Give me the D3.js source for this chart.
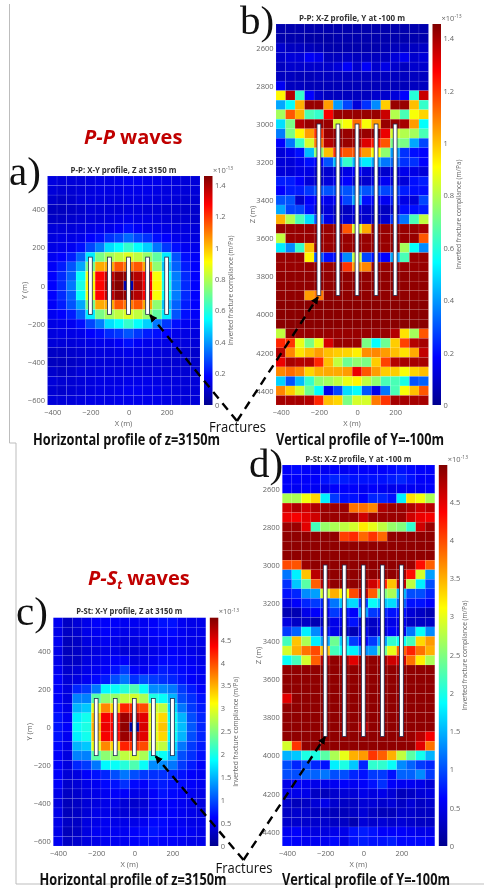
<!DOCTYPE html>
<html>
<head>
<meta charset="utf-8">
<script src="https://cdn.jsdelivr.net/npm/d3@7"></script>
<style>
  html, body { margin: 0; padding: 0; background: #fff; }
  svg { display: block; filter: blur(0.5px); }
  text { font-family: 'Open Sans', sans-serif; }
  .tick text { font-size: 7.5px; fill: #666; font-family: 'Open Sans', sans-serif; }
  .axis-label { font-size: 7.5px; fill: #666; }
  .bar-label { font-size: 7px; fill: #666; }
  .plot-title { font-size: 8px; font-weight: 700; fill: #333; }
  .heading { font-size: 15.5px; font-weight: 700; fill: #111; }
  .panel-tag { font-family: 'Liberation Serif', serif; font-size: 41px; fill: #111; }
  .wave { font-size: 20px; font-weight: 700; fill: #c00000; }
</style>
</head>
<body>
<div class="chart"></div>
<script>
const xCenters = [-400, -350, -300, -250, -200, -150, -100, -50, 0, 50, 100, 150, 200, 250, 300, 350];
const yCenters = [550, 500, 450, 400, 350, 300, 250, 200, 150, 100, 50, 0, -50, -100, -150, -200, -250, -300, -350, -400, -450, -500, -550, -600];
const zCenters = [2500, 2550, 2600, 2650, 2700, 2750, 2800, 2850, 2900, 2950, 3000, 3050, 3100, 3150, 3200, 3250, 3300, 3350, 3400, 3450, 3500, 3550, 3600, 3650, 3700, 3750, 3800, 3850, 3900, 3950, 4000, 4050, 4100, 4150, 4200, 4250, 4300, 4350, 4400, 4450];

const xTicks = [-400, -200, 0, 200];
const yTicks = [400, 200, 0, -200, -400, -600];
const zTicks = [2600, 2800, 3000, 3200, 3400, 3600, 3800, 4000, 4200, 4400];
const ppTicks = [0, 0.2, 0.4, 0.6, 0.8, 1, 1.2, 1.4];
const pstTicks = [0, 0.5, 1, 1.5, 2, 2.5, 3, 3.5, 4, 4.5];

const fractureX = [-200, -100, 0, 100, 200];
const fractureY = [-150, 150];
const fractureZ = [3000, 3900];

// a) P-P, X-Y slice (x 1e-13 m/Pa)
const ppXY = [
  [.13,.12,.12,.12,.13,.14,.14,.15,.16,.16,.15,.15,.14,.13,.12,.12],
  [.12,.11,.11,.12,.13,.14,.14,.14,.15,.15,.15,.14,.13,.13,.12,.12],
  [.10,.09,.10,.12,.13,.13,.13,.13,.14,.14,.14,.13,.13,.12,.11,.11],
  [.08,.08,.09,.10,.12,.12,.12,.12,.13,.13,.12,.12,.11,.11,.10,.10],
  [.09,.09,.10,.11,.12,.12,.13,.14,.15,.14,.14,.13,.12,.11,.11,.10],
  [.12,.12,.12,.13,.14,.15,.15,.17,.20,.17,.15,.15,.14,.13,.13,.12],
  [.13,.14,.14,.15,.18,.20,.25,.28,.33,.28,.25,.20,.18,.15,.14,.13],
  [.14,.15,.16,.20,.28,.36,.50,.55,.62,.55,.48,.35,.26,.20,.16,.15],
  [.16,.18,.22,.32,.52,.72,.78,.82,.86,.82,.76,.68,.52,.30,.20,.17],
  [.17,.22,.30,.42,.72,1.03,1.03,1.15,1.10,1.15,1.03,.75,.46,.32,.22,.18],
  [.18,.24,.32,.55,.88,1.27,1.36,1.43,1.43,1.38,1.27,.90,.55,.36,.24,.18],
  [.18,.24,.35,.58,.92,1.27,1.40,1.45,.05,1.40,1.28,.92,.58,.36,.24,.18],
  [.18,.24,.32,.55,.88,1.27,1.36,1.43,1.43,1.38,1.27,.90,.55,.36,.24,.18],
  [.17,.22,.30,.42,.72,1.03,1.03,1.15,1.10,1.15,1.03,.75,.46,.32,.22,.18],
  [.16,.18,.22,.32,.52,.72,.78,.82,.86,.82,.76,.68,.52,.30,.20,.17],
  [.14,.15,.16,.20,.28,.36,.50,.55,.62,.55,.48,.35,.26,.20,.16,.15],
  [.13,.14,.14,.15,.18,.20,.24,.26,.30,.26,.22,.20,.18,.15,.14,.13],
  [.12,.12,.12,.13,.14,.15,.15,.17,.20,.17,.15,.15,.14,.13,.13,.12],
  [.09,.09,.10,.11,.12,.13,.13,.14,.15,.14,.14,.13,.12,.11,.11,.10],
  [.08,.08,.09,.10,.12,.12,.12,.12,.13,.13,.12,.12,.11,.11,.10,.10],
  [.10,.09,.10,.12,.12,.13,.13,.13,.13,.13,.13,.13,.12,.12,.11,.11],
  [.12,.11,.11,.12,.13,.14,.14,.14,.15,.15,.15,.14,.13,.13,.12,.12],
  [.11,.10,.11,.12,.13,.14,.14,.15,.16,.16,.15,.15,.14,.13,.12,.12],
  [.12,.12,.12,.13,.14,.14,.14,.15,.15,.15,.15,.15,.14,.13,.12,.12]
];

// b) P-P, X-Z slice
const ppXZ = [
  [.05,.05,.05,.05,.05,.05,.05,.05,.05,.05,.05,.05,.05,.05,.05,.05],
  [.05,.05,.05,.04,.04,.04,.05,.05,.05,.05,.05,.05,.05,.05,.05,.05],
  [.10,.08,.08,.07,.06,.05,.05,.05,.05,.05,.05,.06,.07,.08,.08,.09],
  [.10,.12,.12,.17,.15,.08,.08,.09,.08,.08,.08,.08,.12,.16,.10,.12],
  [.08,.10,.10,.10,.10,.10,.12,.17,.10,.17,.10,.14,.10,.08,.10,.10],
  [.08,.08,.07,.07,.08,.08,.08,.08,.08,.08,.08,.08,.08,.08,.08,.08],
  [.16,.08,.08,.07,.07,.07,.07,.07,.07,.07,.07,.07,.07,.07,.08,.08],
  [.92,1.38,.62,.18,.10,.08,.08,.08,.08,.08,.10,.10,.12,.18,.60,1.35],
  [.42,.55,1.02,1.42,1.42,1.05,.40,.28,.12,.25,.38,.98,1.42,1.42,1.00,.62],
  [.78,1.15,1.02,.65,.62,1.28,1.42,1.42,1.42,1.42,1.42,1.35,.80,.65,.90,.97],
  [.50,.72,1.38,1.42,1.42,1.42,.85,.90,1.12,.90,1.05,1.42,1.42,1.40,1.05,.55],
  [.36,.72,.92,1.05,1.20,1.42,1.42,1.42,1.42,1.42,1.42,1.30,.85,.80,.78,.65],
  [.18,.35,.62,.85,1.10,1.38,1.42,1.42,1.40,1.32,1.24,1.15,.72,.72,.42,.28],
  [.12,.15,.20,.45,.75,1.00,1.20,1.15,1.15,1.05,.90,.75,.40,.25,.20,.18],
  [.12,.12,.15,.20,.18,.30,.45,.62,.45,.52,.42,.35,.33,.25,.25,.18],
  [.12,.12,.14,.14,.10,.10,.12,.14,.18,.12,.10,.10,.12,.15,.14,.12],
  [.22,.22,.18,.12,.10,.12,.16,.18,.10,.10,.14,.16,.12,.12,.20,.22],
  [.18,.22,.22,.26,.30,.30,.30,.30,.35,.30,.32,.28,.28,.22,.20,.20],
  [.30,.30,.10,.18,.18,.15,.18,.28,.42,.20,.18,.16,.22,.14,.12,.28],
  [.42,.28,.28,.20,.10,.12,.08,.08,.14,.10,.10,.08,.10,.20,.20,.22],
  [1.02,.80,.65,.50,.30,.14,.10,.10,.10,.10,.08,.10,.25,.35,.65,.82],
  [1.42,1.42,1.42,1.42,1.42,1.42,1.42,1.15,.85,1.03,1.42,1.42,1.42,1.42,1.42,1.40],
  [.82,1.42,1.42,1.42,1.42,1.42,1.42,1.42,1.42,1.42,1.42,1.42,1.42,1.42,1.42,1.15],
  [.52,.38,.62,1.00,1.42,1.42,1.42,1.42,1.42,1.42,1.42,1.42,1.42,.78,.55,.38],
  [1.42,1.42,1.42,.92,.30,.20,.20,.38,.82,.28,.20,.18,.42,.65,1.42,1.42],
  [1.42,1.42,1.42,1.42,1.42,1.42,1.42,1.20,1.05,1.08,1.42,1.42,1.42,1.42,1.42,1.42],
  [1.43,1.43,1.43,1.43,1.43,1.43,1.43,1.43,1.43,1.43,1.43,1.43,1.43,1.43,1.43,1.43],
  [1.43,1.43,1.43,1.43,1.43,1.43,1.43,1.43,1.43,1.43,1.43,1.43,1.43,1.43,1.43,1.43],
  [1.43,1.43,1.43,1.05,1.10,1.43,1.43,1.43,1.43,1.43,1.43,1.43,1.43,1.43,1.43,1.43],
  [1.44,1.44,1.44,1.44,1.44,1.44,1.44,1.44,1.44,1.44,1.44,1.44,1.44,1.44,1.44,1.44],
  [1.44,1.44,1.44,1.44,1.44,1.44,1.44,1.44,1.44,1.44,1.44,1.44,1.44,1.44,1.44,1.44],
  [1.44,1.44,1.44,1.44,1.44,1.44,1.44,1.44,1.44,1.44,1.44,1.44,1.44,1.44,1.44,1.44],
  [.82,1.42,1.42,1.42,1.42,1.42,1.42,1.42,1.42,1.42,1.42,1.42,1.38,.95,.78,1.15],
  [1.22,1.20,.88,.72,.88,1.33,1.42,1.42,1.42,.72,.55,.70,.98,1.18,1.38,1.40],
  [1.38,1.08,.95,1.00,1.05,1.00,.98,.97,.93,1.07,1.08,1.05,1.00,.95,1.03,1.36],
  [1.30,1.40,1.38,1.38,1.22,1.00,.82,.70,.75,.72,.98,1.18,1.38,1.40,1.40,1.40],
  [1.08,1.12,1.08,.97,1.02,1.03,1.03,1.05,1.30,1.15,1.05,.98,.98,.90,.97,1.00],
  [.48,.30,.45,.62,.75,.78,.82,.88,.92,.82,.75,.65,.65,.58,.30,.32],
  [1.08,.98,.85,.70,.55,.15,.28,.50,.55,.30,.15,.35,.65,.90,1.00,1.15],
  [1.40,1.40,1.40,1.38,1.22,1.00,.97,.72,.85,.85,1.10,1.20,1.40,1.40,1.40,1.40]
];

// c) P-St, X-Y slice
const pstXY = [
  [.55,.30,.40,.50,.60,.60,.60,.55,.55,.55,.60,.70,.70,.55,.50,.50],
  [.50,.30,.35,.50,.55,.60,.55,.50,.50,.55,.60,.65,.65,.55,.50,.50],
  [.55,.25,.30,.45,.50,.55,.50,.45,.45,.50,.55,.60,.60,.55,.50,.50],
  [.50,.25,.30,.40,.45,.50,.50,.40,.40,.45,.50,.55,.60,.55,.50,.45],
  [.50,.30,.30,.45,.50,.55,.60,.60,.45,.50,.55,.65,.65,.60,.55,.50],
  [.55,.35,.40,.50,.55,.60,.70,.90,.60,.55,.65,.75,.70,.65,.60,.55],
  [.60,.40,.45,.55,.65,.75,1.00,1.20,.85,1.00,.90,.85,.80,.70,.60,.55],
  [.60,.45,.80,.90,1.20,1.85,1.90,2.05,2.25,1.90,1.30,1.30,1.20,.90,.75,.60],
  [.60,.45,1.25,1.25,2.30,2.55,2.60,2.80,2.90,2.70,2.00,1.90,1.50,1.00,.85,.70],
  [.65,.50,1.50,1.60,3.00,3.70,3.30,4.20,4.10,4.00,2.90,2.80,1.70,1.20,.90,.75],
  [.70,.55,1.80,1.95,3.40,4.40,4.30,4.85,4.70,4.50,3.00,3.30,1.90,1.50,1.00,.80],
  [.70,.60,1.90,2.00,3.50,4.45,4.35,4.90,.10,4.55,3.00,3.40,1.95,1.55,1.05,.80],
  [.70,.55,1.80,1.95,3.40,4.40,4.30,4.85,4.70,4.50,3.00,3.30,1.90,1.50,1.00,.80],
  [.65,.50,1.50,1.60,3.00,3.70,3.30,4.20,4.10,4.00,2.90,2.80,1.70,1.20,.90,.75],
  [.60,.45,1.25,1.25,2.30,2.55,2.60,2.80,2.90,2.70,2.00,1.90,1.50,1.00,.85,.70],
  [.60,.45,.80,.90,1.20,1.85,1.90,2.05,2.25,1.90,1.30,1.30,1.20,.90,.75,.60],
  [.60,.40,.45,.60,.70,.80,1.00,1.20,1.00,.90,.85,.85,.80,.70,.60,.55],
  [.60,.35,.40,.50,.55,.65,.70,.85,.65,.60,.70,.75,.70,.65,.60,.55],
  [.50,.30,.35,.45,.50,.55,.60,.60,.50,.50,.60,.70,.65,.60,.55,.50],
  [.45,.25,.30,.40,.45,.50,.50,.40,.35,.40,.55,.60,.60,.55,.50,.45],
  [.50,.25,.30,.40,.50,.50,.45,.40,.40,.45,.55,.60,.60,.55,.50,.45],
  [.50,.30,.30,.45,.50,.55,.50,.50,.50,.55,.65,.65,.60,.55,.50,.50],
  [.50,.25,.30,.45,.55,.55,.55,.55,.60,.65,.70,.65,.60,.60,.55,.50],
  [.55,.30,.35,.45,.50,.55,.55,.55,.60,.65,.65,.60,.60,.55,.50,.50]
];

// d) P-St, X-Z slice
const pstXZ = [
  [.60,.65,.60,.55,.55,.60,.55,.60,.60,.60,.60,.65,.70,.65,.60,.60],
  [.60,.60,.60,.60,.70,.80,.75,.70,.70,.70,.70,.75,.80,.70,.60,.60],
  [.60,.55,.60,.55,.50,.60,.60,.60,.55,.60,.55,.50,.55,.55,.55,.60],
  [2.70,2.70,3.05,3.30,1.80,.90,.70,.70,.60,.80,.80,.70,1.80,3.25,3.05,2.70],
  [4.60,4.75,4.60,4.75,4.85,4.85,4.85,3.80,3.80,3.70,4.75,4.85,4.85,4.75,4.60,4.70],
  [4.45,4.40,4.50,4.60,4.85,4.85,4.85,4.85,4.60,4.85,4.85,4.85,4.85,4.60,4.45,4.40],
  [4.85,4.85,4.50,2.20,2.60,2.70,2.80,2.90,3.20,3.00,2.80,2.60,2.50,2.10,4.60,4.85],
  [4.90,4.90,4.90,4.90,4.90,4.90,4.05,4.15,3.85,4.10,3.85,4.90,4.90,4.90,4.90,4.90],
  [4.90,4.90,4.90,4.90,4.90,4.90,4.90,4.90,4.90,4.90,4.90,4.90,4.90,4.90,4.90,4.90],
  [4.90,4.90,4.90,4.90,4.90,4.90,4.90,4.90,4.90,4.90,4.90,4.90,4.90,4.90,4.90,4.90],
  [4.00,3.95,4.85,4.90,4.90,4.90,4.90,4.90,4.90,4.90,4.90,4.90,4.90,4.85,4.30,3.90],
  [1.20,1.80,3.40,4.70,4.90,4.90,4.90,4.90,4.90,4.90,4.90,4.90,4.85,4.30,2.90,1.40],
  [.85,1.60,2.30,3.90,4.70,4.90,4.90,4.90,4.90,4.60,4.20,3.40,4.70,2.80,1.80,1.00],
  [.70,.80,1.30,1.40,2.90,3.50,3.10,4.00,4.70,3.90,2.50,2.70,1.50,1.00,1.00,.80],
  [.45,.60,.80,.90,.80,1.20,1.60,1.70,.90,1.90,1.60,1.70,1.10,.70,.70,.60],
  [.20,.20,.50,.60,.60,.90,.70,.60,1.40,.90,.80,.70,.70,.40,.30,.20],
  [.45,.30,.30,.20,.30,.50,.50,.70,.30,.30,.45,.50,.50,.30,.30,.30],
  [.90,1.10,1.80,1.30,.70,.50,.30,.20,.50,.30,.40,.60,.50,1.20,1.90,1.30],
  [2.20,3.40,2.70,1.80,1.40,2.40,1.60,.90,.60,.90,1.40,2.10,1.90,2.20,3.30,3.60],
  [2.90,3.50,3.80,4.00,3.40,2.20,1.90,1.80,1.30,1.40,2.40,3.00,3.90,4.20,3.80,3.50],
  [1.90,2.20,2.90,3.90,4.70,4.90,4.80,4.50,4.90,4.90,4.85,4.60,4.60,3.80,3.20,2.70],
  [4.90,4.90,4.90,4.90,4.90,4.90,4.90,4.90,4.90,4.90,4.90,4.90,4.90,4.90,4.90,4.90],
  [4.90,4.90,4.90,4.90,4.90,4.90,4.90,4.90,4.90,4.90,4.90,4.90,4.90,4.90,4.90,4.90],
  [4.90,4.90,4.90,4.90,4.90,4.90,4.90,4.90,4.90,4.90,4.90,4.90,4.90,4.90,4.90,4.90],
  [4.50,4.90,4.90,4.90,4.90,4.90,4.90,4.90,4.90,4.90,4.90,4.90,4.90,4.90,4.90,4.90],
  [4.90,4.90,4.90,4.90,4.90,4.90,4.90,4.90,4.90,4.90,4.90,4.90,4.90,4.90,4.90,4.90],
  [4.90,4.90,4.90,4.90,4.90,4.90,4.90,4.90,4.90,4.90,4.90,4.90,4.90,4.90,4.90,4.90],
  [4.90,4.90,4.90,4.90,4.90,4.90,4.90,4.90,4.70,4.90,4.90,4.90,4.90,4.90,4.90,4.90],
  [4.90,4.90,4.90,4.90,4.90,4.90,4.90,4.90,4.90,4.90,4.90,4.90,4.90,4.85,4.70,4.40],
  [2.90,4.10,4.90,4.90,4.90,4.90,4.90,4.90,4.90,4.90,4.90,4.90,4.90,4.90,4.50,3.80],
  [1.50,1.60,2.00,2.00,2.30,2.70,3.00,3.50,3.60,4.10,3.90,3.50,2.80,2.30,1.95,1.50],
  [1.00,.80,1.00,.80,.70,1.80,2.00,1.60,.80,2.10,2.10,1.90,1.30,1.10,.90,.80],
  [1.00,1.00,1.10,1.10,1.20,1.00,1.00,.80,.70,.90,.90,.70,1.10,1.10,1.30,.90],
  [.50,.60,.55,.50,.50,.55,.60,.55,.60,.70,.85,.60,.55,.55,.50,.40],
  [.50,.50,.50,.30,.25,.35,.40,.40,.50,.45,.50,.40,.25,.30,.40,.45],
  [.35,.25,.30,.40,.50,.35,.30,.30,.40,.40,.35,.40,.30,.40,.30,.35],
  [.30,.35,.35,.30,.30,.25,.25,.30,.40,.30,.25,.25,.35,.35,.30,.30],
  [.35,.35,.35,.35,.35,.30,.30,.20,.40,.35,.40,.35,.40,.35,.30,.30],
  [.55,.60,.50,.45,.45,.50,.50,.70,.75,.70,.60,.60,.60,.55,.50,.50],
  [.65,.60,.55,.55,.55,.65,.50,.70,.75,.70,.70,.75,.65,.65,.65,.60]
];

const svg = d3.select('.chart').append('svg').attr('width', 484).attr('height', 888);

// grey slide frame behind everything
svg.append('path')
  .attr('d', 'M9.5,4V443H16V884H484')
  .attr('fill', 'none')
  .attr('stroke', '#bdbdbd')
  .attr('stroke-width', 1);

const jetColor = d3.scaleLinear()
  .domain([0, 0.125, 0.375, 0.625, 0.875, 1])
  .range(['#00008f', '#0000ff', '#00ffff', '#ffff00', '#ff0000', '#800000'])
  .clamp(true);

const defs = svg.append('defs');
const gradient = defs.append('linearGradient')
  .attr('id', 'jetBar')
  .attr('x1', 0).attr('x2', 0).attr('y1', 1).attr('y2', 0);
gradient.selectAll('stop')
  .data(jetColor.domain())
  .join('stop')
  .attr('offset', (d) => d)
  .attr('stop-color', (d) => jetColor(d));

defs.append('marker')
  .attr('id', 'tip')
  .attr('viewBox', '0 0 10 10')
  .attr('refX', 9)
  .attr('refY', 5)
  .attr('markerWidth', 3.2)
  .attr('markerHeight', 3.2)
  .attr('orient', 'auto')
  .append('path')
  .attr('d', 'M0,0L10,5L0,10Z')
  .attr('fill', '#000');

function drawPanel(p) {
  const group = svg.append('g');
  const x = d3.scaleLinear().domain([-425, 375]).range([p.left, p.left + 152.5]);
  const y = d3.scaleLinear().domain(p.yDomain).range([p.top, p.bottom]);
  const color = (v) => jetColor(v / p.max);
  const rowStep = Math.abs(p.rowKeys[1] - p.rowKeys[0]);

  // cells
  group.selectAll('g.row')
    .data(p.rows)
    .join('g')
    .attr('class', 'row')
    .each(function (row, i) {
      const rowKey = p.rowKeys[i];
      d3.select(this).selectAll('rect')
        .data(row)
        .join('rect')
        .attr('x', (d, j) => x(xCenters[j] - 25))
        .attr('y', Math.min(y(rowKey - rowStep / 2), y(rowKey + rowStep / 2)))
        .attr('width', x(25) - x(-25))
        .attr('height', Math.abs(y(rowKey + rowStep / 2) - y(rowKey - rowStep / 2)))
        .attr('fill', (d) => color(d))
        .attr('stroke', 'rgba(255,255,255,0.15)')
        .attr('stroke-width', 0.5);
    });

  // fractures
  group.selectAll('rect.fracture')
    .data(fractureX)
    .join('rect')
    .attr('class', 'fracture')
    .attr('x', (d) => x(d) - 1.9)
    .attr('y', Math.min(y(p.fracture[0]), y(p.fracture[1])))
    .attr('width', 3.8)
    .attr('height', Math.abs(y(p.fracture[1]) - y(p.fracture[0])))
    .attr('fill', '#fff')
    .attr('stroke', '#1d2b4f')
    .attr('stroke-width', 0.8);

  // axes
  const xAxis = d3.axisBottom(x).tickValues(xTicks).tickSize(0).tickPadding(5).tickFormat(d3.format('d'));
  group.append('g')
    .attr('transform', `translate(0, ${p.bottom})`)
    .call(xAxis)
    .call((g) => g.select('.domain').remove());
  const yAxis = d3.axisLeft(y).tickValues(p.yTicks).tickSize(0).tickPadding(2.5).tickFormat(d3.format('d'));
  group.append('g')
    .attr('transform', `translate(${p.left}, 0)`)
    .call(yAxis)
    .call((g) => g.select('.domain').remove());

  group.append('text')
    .attr('class', 'axis-label')
    .attr('x', p.left + 76)
    .attr('y', p.bottom + 21)
    .attr('text-anchor', 'middle')
    .text('X (m)');
  group.append('text')
    .attr('class', 'axis-label')
    .attr('transform', `translate(${p.left - 21}, ${(p.top + p.bottom) / 2}) rotate(-90)`)
    .attr('text-anchor', 'middle')
    .text(p.yLabel);
  group.append('text')
    .attr('class', 'plot-title')
    .attr('x', p.left + 76)
    .attr('y', p.top - 3.5)
    .attr('text-anchor', 'middle')
    .attr('textLength', 106)
    .attr('lengthAdjust', 'spacingAndGlyphs')
    .text(p.title);

  // colorbar
  const barLeft = p.left + 156.5;
  const barScale = d3.scaleLinear().domain([0, p.max]).range([p.bottom, p.top]);
  group.append('rect')
    .attr('x', barLeft)
    .attr('y', p.top)
    .attr('width', 8.5)
    .attr('height', p.bottom - p.top)
    .attr('fill', 'url(#jetBar)');
  group.append('g')
    .attr('transform', `translate(${barLeft + 8.5}, 0)`)
    .call(d3.axisRight(barScale).tickValues(p.barTicks).tickSize(0).tickPadding(2.5).tickFormat((d) => d))
    .call((g) => g.select('.domain').remove());
  group.append('text')
    .attr('class', 'bar-label')
    .attr('transform', `translate(${barLeft + 28.5}, ${(p.top + p.bottom) / 2}) rotate(-90)`)
    .attr('text-anchor', 'middle')
    .attr('textLength', 110)
    .attr('lengthAdjust', 'spacingAndGlyphs')
    .text('Inverted fracture compliance (m/Pa)');

  const exponent = group.append('text')
    .attr('class', 'axis-label')
    .attr('x', barLeft + 9)
    .attr('y', p.top - 3.5);
  exponent.append('tspan').text('×10');
  exponent.append('tspan').attr('dy', -2.5).attr('font-size', 5).text('-13');

  return { x, y };
}

const panelA = drawPanel({
  left: 47.5, top: 176, bottom: 405, max: 1.455, rows: ppXY, rowKeys: yCenters,
  yDomain: [575, -625], yTicks: yTicks, yLabel: 'Y (m)', barTicks: ppTicks,
  fracture: fractureY, title: 'P-P: X-Y profile, Z at 3150 m'
});
const panelB = drawPanel({
  left: 276, top: 24, bottom: 405, max: 1.455, rows: ppXZ, rowKeys: zCenters,
  yDomain: [2475, 4475], yTicks: zTicks, yLabel: 'Z (m)', barTicks: ppTicks,
  fracture: fractureZ, title: 'P-P: X-Z profile, Y at -100 m'
});
const panelC = drawPanel({
  left: 53.3, top: 617.7, bottom: 846, max: 4.98, rows: pstXY, rowKeys: yCenters,
  yDomain: [575, -625], yTicks: yTicks, yLabel: 'Y (m)', barTicks: pstTicks,
  fracture: fractureY, title: 'P-St: X-Y profile, Z at 3150 m'
});
const panelD = drawPanel({
  left: 282.3, top: 465, bottom: 846, max: 4.98, rows: pstXZ, rowKeys: zCenters,
  yDomain: [2475, 4475], yTicks: zTicks, yLabel: 'Z (m)', barTicks: pstTicks,
  fracture: fractureZ, title: 'P-St: X-Z profile, Y at -100 m'
});

// dashed arrows from the "Fractures" label up to the fracture ends
function drawArrow(apex, panel, tip) {
  svg.append('line')
    .attr('x1', apex[0])
    .attr('y1', apex[1])
    .attr('x2', panel.x(tip[0]))
    .attr('y2', panel.y(tip[1]))
    .attr('stroke', '#000')
    .attr('stroke-width', 2.4)
    .attr('stroke-dasharray', '8.5,6')
    .attr('marker-end', 'url(#tip)');
}
drawArrow([237, 421], panelA, [113, -153]);
drawArrow([237, 421], panelB, [-205, 3908]);
drawArrow([243.5, 860], panelC, [112, -153]);
drawArrow([243.5, 860], panelD, [-201, 3903]);

// slide text
const addText = (cls, px, py, str, len) => {
  const t = svg.append('text').attr('class', cls).attr('x', px).attr('y', py).text(str);
  if (len) t.attr('textLength', len).attr('lengthAdjust', 'spacingAndGlyphs');
  return t;
};
addText('panel-tag', 9, 185, 'a)');
addText('panel-tag', 240, 34, 'b)');
addText('panel-tag', 16, 625, 'c)');
addText('panel-tag', 249, 477, 'd)');

addText('heading', 33, 445, 'Horizontal profile of z=3150m', 187);
addText('heading', 276, 445, 'Vertical profile of Y=-100m', 168);
addText('heading', 39.5, 885, 'Horizontal profile of z=3150m', 187);
addText('heading', 282, 885, 'Vertical profile of Y=-100m', 168);

addText('', 209, 432, 'Fractures', 57).attr('font-size', 14).attr('fill', '#111');
addText('', 215.5, 873, 'Fractures', 57).attr('font-size', 14).attr('fill', '#111');

const ppLabel = svg.append('text').attr('class', 'wave').attr('x', 84).attr('y', 144);
ppLabel.append('tspan').attr('font-style', 'italic').text('P-P');
ppLabel.append('tspan').text(' waves');

const pstLabel = svg.append('text').attr('class', 'wave').attr('x', 88).attr('y', 585);
pstLabel.append('tspan').attr('font-style', 'italic').text('P-S');
pstLabel.append('tspan').attr('font-style', 'italic').attr('font-size', 12).attr('dy', 4).text('t');
pstLabel.append('tspan').attr('dy', -4).text(' waves');
</script>
</body>
</html>
